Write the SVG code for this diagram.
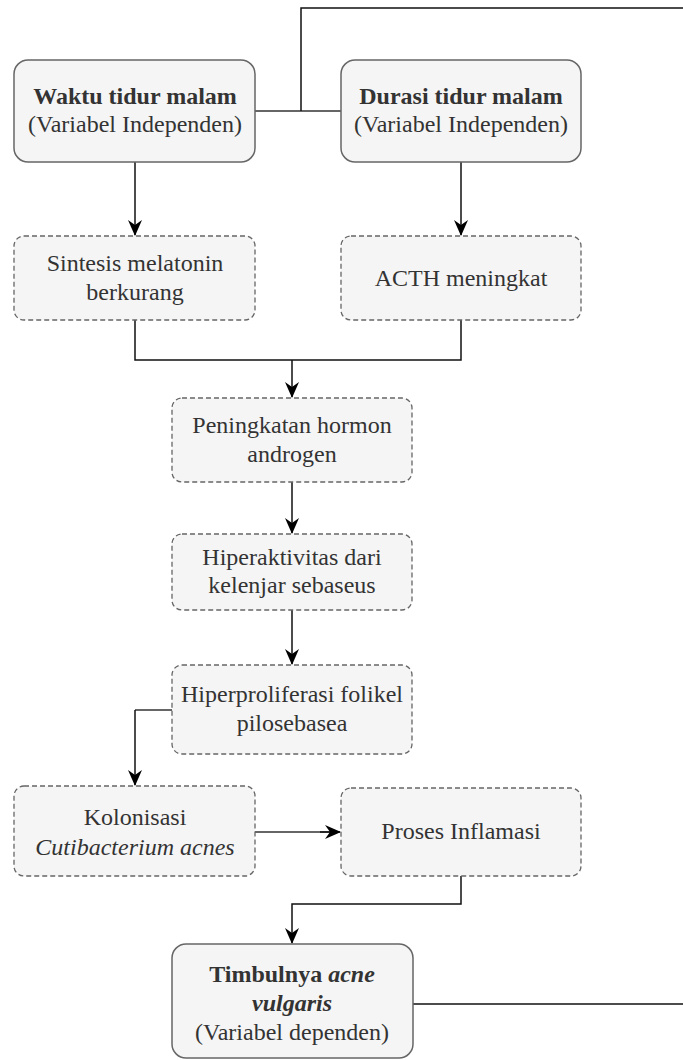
<svg xmlns="http://www.w3.org/2000/svg" width="683" height="1060" viewBox="0 0 683 1060">
<defs>
<style>
.solid{fill:#f5f5f5;stroke:#666;stroke-width:1.5}
.dash{fill:#f5f5f5;stroke:#666;stroke-width:1.3;stroke-dasharray:5 3}
.t{font-family:"Liberation Serif","DejaVu Serif",serif;font-size:24px;fill:#333;text-anchor:middle}
.b{font-weight:bold}
.i{font-style:italic}
.ln{fill:none;stroke:#111;stroke-width:1.5}
.gl{fill:none;stroke:#666;stroke-width:2.2}
</style>
<marker id="ar" markerWidth="16" markerHeight="14" refX="15" refY="7" orient="auto" markerUnits="userSpaceOnUse" viewBox="0 0 16 14">
<path d="M0,0 L16,7 L0,14 L5,7 Z" fill="#000"/>
</marker>
</defs>
<rect width="683" height="1060" fill="#fff"/>
<g id="connectors">
<path class="gl" d="M255,111 H341"/>
<path class="ln" d="M301,111 V8 H683"/>
<path class="ln" d="M135,162 V235" marker-end="url(#ar)"/>
<path class="ln" d="M461,162 V235" marker-end="url(#ar)"/>
<path class="ln" d="M135,320 V360 H461 V320"/>
<path class="ln" d="M292,360 V397" marker-end="url(#ar)"/>
<path class="ln" d="M292,482 V533" marker-end="url(#ar)"/>
<path class="ln" d="M292,610 V664" marker-end="url(#ar)"/>
<path class="gl" d="M172,710 H135"/>
<path class="ln" d="M135,710 V785" marker-end="url(#ar)"/>
<path class="gl" d="M255,832 H330"/>
<path class="ln" d="M320,832 H340" marker-end="url(#ar)"/>
<path class="ln" d="M461,876 V904 H292 V943" marker-end="url(#ar)"/>
<path class="ln" d="M413,1004 H683"/>
</g>
<g id="waktu">
<rect class="solid" x="14" y="60" width="241" height="102" rx="14"/>
<text class="t b" x="135" y="104">Waktu tidur malam</text>
<text class="t" x="135" y="132">(Variabel Independen)</text>
</g>
<g id="durasi">
<rect class="solid" x="341" y="60" width="240" height="102" rx="14"/>
<text class="t b" x="461" y="104">Durasi tidur malam</text>
<text class="t" x="461" y="132">(Variabel Independen)</text>
</g>
<g id="sintesis">
<rect class="dash" x="14" y="236" width="241" height="84" rx="10"/>
<text class="t" x="135" y="271">Sintesis melatonin</text>
<text class="t" x="135" y="300">berkurang</text>
</g>
<g id="acth">
<rect class="dash" x="341" y="236" width="240" height="84" rx="10"/>
<text class="t" x="461" y="286">ACTH meningkat</text>
</g>
<g id="peningkatan">
<rect class="dash" x="172" y="398" width="240" height="84" rx="10"/>
<text class="t" x="292" y="433">Peningkatan hormon</text>
<text class="t" x="292" y="462">androgen</text>
</g>
<g id="hiperaktivitas">
<rect class="dash" x="172" y="534" width="240" height="76" rx="10"/>
<text class="t" x="292" y="565">Hiperaktivitas dari</text>
<text class="t" x="292" y="593">kelenjar sebaseus</text>
</g>
<g id="hiperproliferasi">
<rect class="dash" x="172" y="665" width="240" height="89" rx="10"/>
<text class="t" x="292" y="702">Hiperproliferasi folikel</text>
<text class="t" x="292" y="731">pilosebasea</text>
</g>
<g id="kolonisasi">
<rect class="dash" x="14" y="786" width="241" height="90" rx="10"/>
<text class="t" x="135" y="825">Kolonisasi</text>
<text class="t i" x="135" y="855">Cutibacterium acnes</text>
</g>
<g id="proses">
<rect class="dash" x="341" y="788" width="240" height="88" rx="10"/>
<text class="t" x="461" y="839">Proses Inflamasi</text>
</g>
<g id="timbulnya">
<rect class="solid" x="172" y="944" width="241" height="114" rx="14"/>
<text class="t b" x="292" y="982">Timbulnya <tspan class="i">acne</tspan></text>
<text class="t b i" x="292" y="1011">vulgaris</text>
<text class="t" x="292" y="1040">(Variabel dependen)</text>
</g>
</svg>
